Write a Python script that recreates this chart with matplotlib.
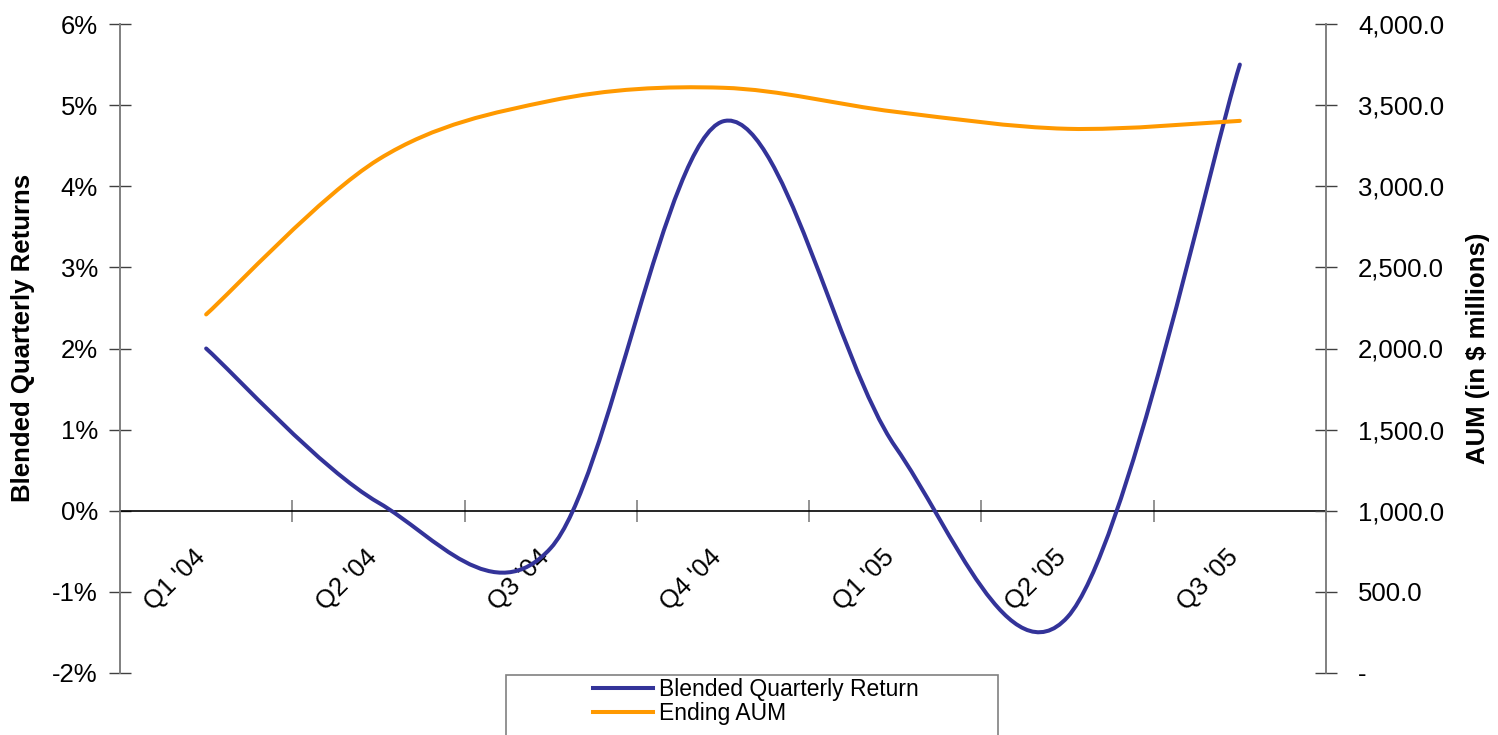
import matplotlib
matplotlib.use("Agg")
import matplotlib.pyplot as plt
from matplotlib.path import Path
from matplotlib.patches import PathPatch, Rectangle
from matplotlib.lines import Line2D
from matplotlib.ticker import FuncFormatter, FixedLocator
import matplotlib.transforms as mtransforms

# data
quarters = ["Q1 '04", "Q2 '04", "Q3 '04", "Q4 '04", "Q1 '05", "Q2 '05", "Q3 '05"]
blended_return = [2.00, 0.10, -0.46, 4.80, 0.79, -1.31, 5.50]      # percent
ending_aum = [2210, 3165, 3527, 3607, 3459, 3354, 3403]            # $ millions

BLUE = "#333399"
ORANGE = "#FF9900"
plt.rcParams["font.family"] = ["Liberation Sans", "DejaVu Sans"]
FS = 18.5
LEG_FS = 16.5
LW = 2.9


def smooth_path(xs, ys):
    # Excel-style smoothed line: cubic Bezier through every point
    pts = list(zip(xs, ys))
    n = len(pts)
    verts = [pts[0]]
    codes = [Path.MOVETO]
    for i in range(n - 1):
        p0 = pts[max(i - 1, 0)]
        p1 = pts[i]
        p2 = pts[i + 1]
        p3 = pts[min(i + 2, n - 1)]
        c1 = (p1[0] + (p2[0] - p0[0]) / 6, p1[1] + (p2[1] - p0[1]) / 6)
        c2 = (p2[0] - (p3[0] - p1[0]) / 6, p2[1] - (p3[1] - p1[1]) / 6)
        verts += [c1, c2, p2]
        codes += [Path.CURVE4] * 3
    return Path(verts, codes)


x = list(range(len(quarters)))

fig = plt.figure(figsize=(14.98, 7.35), dpi=100)
ax = fig.add_axes([120 / 1498, 1 - 673 / 735, (1326 - 120) / 1498, (673 - 24) / 735])
ax2 = ax.twinx()

ax.add_patch(PathPatch(smooth_path(x, blended_return), fill=False,
                       edgecolor=BLUE, lw=LW, capstyle="round", zorder=3))
ax2.add_patch(PathPatch(smooth_path(x, ending_aum), fill=False,
                        edgecolor=ORANGE, lw=LW, capstyle="round", zorder=3))

ax.set_xlim(-0.5, len(quarters) - 0.5)
ax.set_ylim(-2, 6)
ax2.set_ylim(0, 4000)

# left axis
ax.set_yticks(range(-2, 7))
ax.yaxis.set_major_formatter(FuncFormatter(lambda v, p: f"{v:.0f}%"))
ax.tick_params(axis="y", direction="inout", length=16, width=1, color="#404040",
               labelsize=FS, pad=8)
ax.set_ylabel("Blended Quarterly Returns", fontsize=FS, fontweight="bold")
ax.yaxis.set_label_coords(-0.0705, 0.516)

# right axis
ax2.set_yticks(range(0, 4001, 500))
ax2.yaxis.set_major_formatter(FuncFormatter(lambda v, p: "-" if v == 0 else f"{v:,.1f}"))
ax2.tick_params(axis="y", direction="inout", length=16, width=1, color="#404040",
                labelsize=FS, pad=15)
ax2.set_ylabel("AUM (in $ millions)", fontsize=FS, fontweight="bold", labelpad=16)

# category axis sits on 0%
ax.spines["bottom"].set_position(("data", 0))
ax.spines["bottom"].set_color("black")
ax.spines["bottom"].set_linewidth(1.2)
for a in (ax, ax2):
    a.spines["top"].set_visible(False)
    a.spines["left"].set_color("#808080")
    a.spines["right"].set_color("#808080")
    a.spines["left"].set_linewidth(1.2)
    a.spines["right"].set_linewidth(1.2)
ax2.spines["bottom"].set_visible(False)

ax.set_xticks(x)
ax.set_xticklabels(quarters, rotation=45, ha="right", va="center",
                   rotation_mode="anchor", fontsize=FS)
ax.tick_params(axis="x", which="major", length=0, pad=31)
shift = mtransforms.ScaledTranslation(-5 / 100, 0, fig.dpi_scale_trans)
for lbl in ax.get_xticklabels():
    lbl.set_transform(lbl.get_transform() + shift)
ax.xaxis.set_minor_locator(FixedLocator([i - 0.5 for i in range(len(quarters) + 1)]))
ax.tick_params(axis="x", which="minor", direction="inout", length=16, width=1.2,
               color="#808080")

# legend with a box running off the bottom edge
fig.patches.append(Rectangle((506 / 1498, -0.05), (998 - 506) / 1498, 1 - 675 / 735 + 0.05,
                             transform=fig.transFigure, fill=False,
                             edgecolor="#808080", lw=1.2))
handles = [Line2D([], [], color=BLUE, lw=LW), Line2D([], [], color=ORANGE, lw=LW)]
fig.legend(handles, ["Blended Quarterly Return", "Ending AUM"],
           loc="upper left", bbox_to_anchor=(593 / 1498, 1 - 678 / 735),
           frameon=False, fontsize=LEG_FS, handlelength=2.6, handletextpad=0.26,
           labelspacing=0.05, borderaxespad=0, borderpad=0)

fig.savefig("out.png", dpi=100)
